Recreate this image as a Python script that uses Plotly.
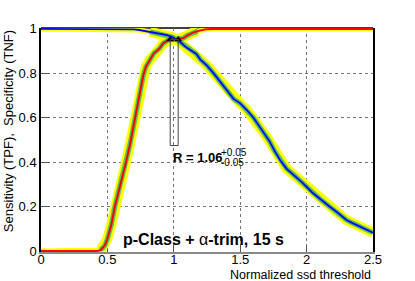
import plotly.graph_objects as go

# Sensitivity (TPF) vs normalized threshold
red_x = [0, 0.42, 0.45, 0.48, 0.5, 0.53, 0.556, 0.6, 0.64, 0.67, 0.69, 0.71, 0.74, 0.77,
         0.79, 0.82, 0.85, 0.89, 0.92, 0.96, 1.0, 1.04, 1.07, 1.1, 1.14, 1.18, 1.24, 1.3, 2.5]
red_y = [0, 0, 0.005, 0.025, 0.055, 0.12, 0.2, 0.3, 0.4, 0.48, 0.54, 0.61, 0.70, 0.79,
         0.83, 0.86, 0.89, 0.91, 0.935, 0.95, 0.953, 0.955, 0.958, 0.97, 0.982, 0.99, 0.998, 1.0, 1.0]

# Specificity (TNF) vs normalized threshold
blue_x = [0, 0.65, 0.7, 0.74, 0.82, 0.9, 0.95, 0.99, 1.03, 1.06, 1.09, 1.13, 1.17, 1.2, 1.25,
          1.3, 1.34, 1.39, 1.42, 1.45, 1.5, 1.55, 1.6, 1.64, 1.68, 1.72, 1.76, 1.8, 1.85, 1.9,
          1.97, 2.04, 2.1, 2.17, 2.23, 2.3, 2.35, 2.4, 2.45, 2.5]
blue_y = [1, 1, 0.998, 0.995, 0.987, 0.978, 0.972, 0.963, 0.948, 0.935, 0.918, 0.903, 0.887,
          0.862, 0.835, 0.8, 0.768, 0.73, 0.708, 0.685, 0.665, 0.635, 0.6, 0.565, 0.53, 0.495,
          0.45, 0.41, 0.37, 0.345, 0.307, 0.265, 0.235, 0.202, 0.175, 0.14, 0.125, 0.11, 0.097,
          0.083]

# crossing markers / box
cross_x = [0.973, 1.033]
cross_y = [0.952, 0.952]
box_x = [0.973, 1.033]
box_y = [0.475, 0.952]

x_ticks = [0, 0.5, 1, 1.5, 2, 2.5]
x_ticklabels = ["0", "0.5", "1", "1.5", "2", "2.5"]
y_ticks = [0, 0.2, 0.4, 0.6, 0.8, 1]
y_ticklabels = ["0", "0.2", "0.4", "0.6", "0.8", "1"]

YELLOW = "#ffff00"
GREEN = "#5cc05c"
FONT = "Liberation Sans, Arial, sans-serif"


def transition(xs, ys, lo_v=0.01, hi_v=0.985):
    idx = [i for i, v in enumerate(ys) if lo_v < v < hi_v]
    lo = max(idx[0] - 1, 0)
    hi = min(idx[-1] + 1, len(xs) - 1)
    return xs[lo:hi + 1], ys[lo:hi + 1]


fig = go.Figure()

# thin yellow bands along full curves
for xs, ys in [(red_x, red_y), (blue_x, blue_y)]:
    fig.add_trace(go.Scatter(x=xs, y=ys, mode="lines",
                             line=dict(color=YELLOW, width=5), hoverinfo="skip"))
# wide bands along transitions
for xs, ys in [(red_x, red_y), (blue_x, blue_y)]:
    tx, ty = transition(xs, ys)
    fig.add_trace(go.Scatter(x=tx, y=ty, mode="lines",
                             line=dict(color=YELLOW, width=10), hoverinfo="skip"))
for xs, ys in [(red_x, red_y), (blue_x, blue_y)]:
    tx, ty = transition(xs, ys)
    fig.add_trace(go.Scatter(x=tx, y=ty, mode="lines",
                             line=dict(color=GREEN, width=5), hoverinfo="skip"))

fig.add_trace(go.Scatter(x=red_x, y=red_y, mode="lines",
                         line=dict(color="#ff0000", width=2)))
fig.add_trace(go.Scatter(x=blue_x, y=blue_y, mode="lines",
                         line=dict(color="#0000ff", width=1.8)))

fig.add_trace(go.Scatter(x=cross_x, y=cross_y, mode="markers",
                         marker=dict(symbol="triangle-up", size=7, color="black"),
                         cliponaxis=False))

fig.add_shape(type="rect", x0=box_x[0], x1=box_x[1], y0=box_y[0], y1=box_y[1],
              line=dict(color="#444444", width=1))
# top frame (below data)
fig.add_shape(type="line", xref="paper", yref="paper", x0=0, x1=1, y0=1, y1=1,
              line=dict(color="black", width=1.5), layer="below")

annotations = [
    dict(text="Sensitivity (TPF),  Specificity (TNF)", textangle=-90,
         xref="paper", yref="paper", x=-0.099, y=1.0, xanchor="center", yanchor="top",
         showarrow=False, font=dict(size=13, color="black", family=FONT)),
    dict(text="Normalized ssd threshold", xref="paper", yref="paper", x=1.0, y=-0.104,
         xanchor="right", yanchor="middle", showarrow=False,
         font=dict(size=12.5, color="black", family=FONT)),
    dict(text="<b>p-Class + </b>α<b>-trim, 15 s</b>", xref="x", yref="y", x=0.605, y=0.052,
         xanchor="left", yanchor="middle", showarrow=False,
         font=dict(size=16, color="black", family=FONT)),
    dict(text="<b>R = 1.06</b>", xref="x", yref="y", x=0.98, y=0.42,
         xanchor="left", yanchor="middle", showarrow=False,
         font=dict(size=13, color="black", family=FONT)),
    dict(text="+0.05", xref="x", yref="y", x=1.34, y=0.443,
         xanchor="left", yanchor="middle", showarrow=False,
         font=dict(size=10, color="black", family=FONT)),
    dict(text="-0.05", xref="x", yref="y", x=1.34, y=0.40,
         xanchor="left", yanchor="middle", showarrow=False,
         font=dict(size=10, color="black", family=FONT)),
]

fig.update_layout(
    width=415, height=281,
    margin=dict(l=41, r=42, t=28, b=29),
    paper_bgcolor="white", plot_bgcolor="white",
    showlegend=False,
    annotations=annotations,
    font=dict(family=FONT, size=13, color="black"),
)
fig.update_xaxes(range=[0, 2.5], tickvals=x_ticks, ticktext=x_ticklabels,
                 ticks="inside", ticklen=7, tickcolor="#555", showline=True,
                 linecolor="#8a8a8a", linewidth=2, layer="below traces",
                 showgrid=True, gridcolor="#777", griddash="dot", gridwidth=1,
                 zeroline=False, automargin=False, tickfont=dict(size=13),
                 ticklabelstandoff=-6)
fig.update_yaxes(range=[-0.004, 1.004], tickvals=y_ticks, ticktext=y_ticklabels,
                 ticks="inside", ticklen=9, tickcolor="#555", showline=True,
                 linecolor="black", linewidth=1.5, mirror=True, layer="below traces",
                 showgrid=True, gridcolor="#777", griddash="dot", gridwidth=1,
                 zeroline=False, automargin=False, tickfont=dict(size=13))

# remove the default page margin so the figure sits at the window's top-left corner
fig.write_html("out.html", config={"displayModeBar": False},
               post_script="document.body.style.margin='0';")
